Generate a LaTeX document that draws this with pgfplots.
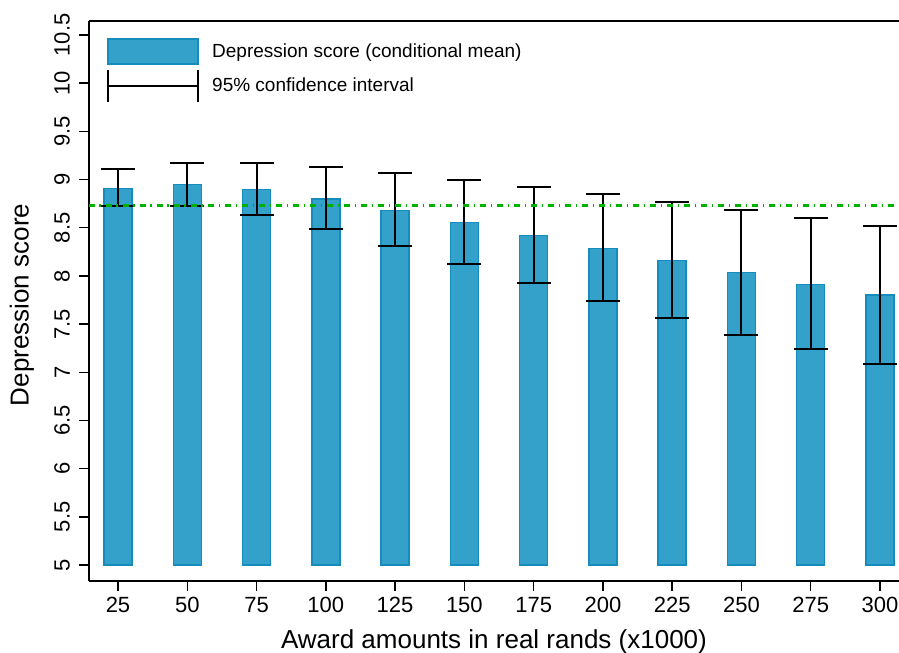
\documentclass[border=0pt]{standalone}
\usepackage{pgfplots}
\pgfplotsset{compat=1.18}
\usepackage{pgfplotstable}
\usepackage{fontspec}
\setmainfont{Liberation Sans}
\definecolor{barfill}{RGB}{51,161,201}
\definecolor{baredge}{RGB}{20,140,190}
\definecolor{refgreen}{RGB}{0,178,0}

% y values are real depression scores; plotted shifted by -5 so bars start at 5
\pgfplotstableread{
x mean lo hi
1 8.906 8.724 9.105
2 8.950 8.730 9.170
3 8.895 8.630 9.167
4 8.800 8.486 9.125
5 8.680 8.310 9.063
6 8.555 8.120 8.990
7 8.420 7.925 8.920
8 8.285 7.740 8.850
9 8.160 7.560 8.766
10 8.036 7.390 8.680
11 7.910 7.240 8.597
12 7.800 7.090 8.517
}\data

\begin{document}
\begin{tikzpicture}
\begin{axis}[
  name=ax,
  scale only axis, width=810bp, height=560bp,
  xmin=0.5815, xmax=12.274, ymin=-0.166, ymax=5.645,
  axis x line*=bottom, axis y line*=left,
  axis line style={line width=1.8bp, -},
  xtick={1,2,3,4,5,6,7,8,9,10,11,12},
  xticklabels={25,50,75,100,125,150,175,200,225,250,275,300},
  ytick={0,0.5,1,1.5,2,2.5,3,3.5,4,4.5,5,5.5},
  yticklabels={5,5.5,6,6.5,7,7.5,8,8.5,9,9.5,10,10.5},
  tick align=outside, major tick length=10bp,
  tick style={line width=1.5bp, black},
  /pgf/number format/assume math mode=true,
  xticklabel style={font=\fontsize{22bp}{26bp}\selectfont, inner sep=0pt, anchor=north, yshift=-6bp},
  yticklabel style={font=\fontsize{22bp}{26bp}\selectfont, inner sep=0pt, xshift=-9bp, rotate=90, anchor=south},
  xlabel={Award amounts in real rands (x1000)},
  ylabel={Depression score},
  xlabel style={font=\fontsize{26bp}{30bp}\selectfont, at={(axis description cs:0.5,-0.1089)}, anchor=center},
  ylabel style={font=\fontsize{26bp}{30bp}\selectfont, at={(axis description cs:-0.0827,0.493)}, anchor=center},
  legend style={at={(axis description cs:0,1)}, anchor=north west, xshift=18bp, yshift=-17bp,
    draw=none, fill=none, inner sep=0pt, row sep=4bp, column sep=13bp,
    font=\fontsize{19bp}{23bp}\selectfont, nodes={inner sep=0pt, anchor=west}},
  legend cell align=left,
]
\addplot[ybar, bar width=28bp, bar shift=0pt, fill=barfill, draw=baredge, line width=1.5bp,
  legend image code/.code={\draw[fill=barfill, draw=baredge, line width=1.5bp] (0bp,-12.5bp) rectangle (90bp,12.5bp);},
  error bars/.cd, y dir=both, y explicit,
  error bar style={line width=2bp, draw=black},
  error mark options={rotate=90, mark size=17bp, line width=2bp, draw=black}]
  table[x=x, y expr=\thisrow{mean}-5, y error plus expr=\thisrow{hi}-\thisrow{mean}, y error minus expr=\thisrow{mean}-\thisrow{lo}] {\data};
\addlegendentry{Depression score (conditional mean)}
\addlegendimage{legend image code/.code={
  \draw[black, line width=2bp] (0bp,-16bp) -- (0bp,16bp);
  \draw[black, line width=2bp] (0bp,0bp) -- (90bp,0bp);
  \draw[black, line width=2bp] (90bp,-16bp) -- (90bp,16bp);}}
\addlegendentry{95\% confidence interval}
\addplot[forget plot, refgreen, line width=2.5bp, dash pattern=on 6bp off 4.5bp on 1.5bp off 5bp]
  coordinates {(0.5815,3.73) (12.274,3.73)};
\end{axis}
\draw[line width=1.8bp] (ax.north west) -- (ax.north east);
\pgfresetboundingbox
\path[use as bounding box] ([xshift=-89bp,yshift=-72bp]ax.south west) rectangle ([yshift=21bp]ax.north east);
\end{tikzpicture}
\end{document}
